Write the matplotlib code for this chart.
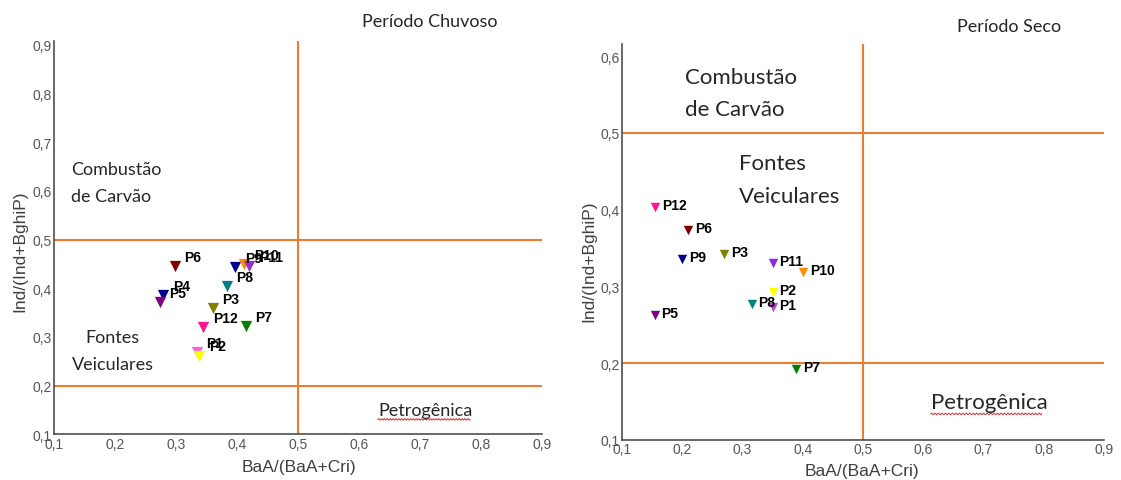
import numpy as np
import matplotlib
matplotlib.use("Agg")
import matplotlib.pyplot as plt

# === Daten: Diagnoseverhältnisse HPA je Messpunkt ===
labels = ["P1", "P2", "P3", "P4", "P5", "P6", "P7", "P8", "P9", "P10", "P11", "P12"]

# Período Chuvoso
chuv_x = [0.334, 0.338, 0.360, 0.279, 0.273, 0.298, 0.414, 0.383, 0.397, 0.412, 0.420, 0.345]
chuv_y = [0.270, 0.262, 0.359, 0.386, 0.372, 0.446, 0.323, 0.405, 0.443, 0.450, 0.445, 0.320]
chuv_cores = ["#ff5fd7", "#ffff00", "#808000", "#00008b", "#800080", "#800000",
              "#008000", "#008080", "#00008b", "#ff8c00", "#9932cc", "#ff1493"]

# Período Seco (P4 ohne Wert)
seco_labels = ["P1", "P2", "P3", "P5", "P6", "P7", "P8", "P9", "P10", "P11", "P12"]
seco_x = [0.350, 0.350, 0.270, 0.154, 0.210, 0.389, 0.315, 0.199, 0.401, 0.350, 0.155]
seco_y = [0.273, 0.293, 0.342, 0.263, 0.374, 0.1925, 0.277, 0.336, 0.319, 0.331, 0.403]
seco_cores = ["#c040d8", "#ffff00", "#808000", "#800080", "#800000", "#008000",
              "#008080", "#00008b", "#ff8c00", "#8a2be2", "#ff1493"]

x_ticks = [0.1, 0.2, 0.3, 0.4, 0.5, 0.6, 0.7, 0.8, 0.9]
y_ticks_chuv = [0.1, 0.2, 0.3, 0.4, 0.5, 0.6, 0.7, 0.8, 0.9]
y_ticks_seco = [0.1, 0.2, 0.3, 0.4, 0.5, 0.6]

laranja = "#ed7d31"
cinza = "#555555"

fig = plt.figure(figsize=(11.21, 4.81), dpi=100)
ax1 = fig.add_axes([0.0482, 0.0946, 0.4353, 0.8189])
ax2 = fig.add_axes([0.5549, 0.0832, 0.4300, 0.8233])


def virgula(v):
    return f"{v:.1f}".replace(".", ",")


def eixo(ax, yticks, ytop):
    ax.set_xlim(0.1, 0.9)
    ax.set_ylim(0.1, ytop)
    for s in ["top", "right"]:
        ax.spines[s].set_visible(False)
    for s in ["left", "bottom"]:
        ax.spines[s].set_color("#404040")
        ax.spines[s].set_linewidth(1.1)
    ax.set_xticks(x_ticks)
    ax.set_xticklabels([virgula(v) for v in x_ticks])
    ax.set_yticks(yticks)
    ax.set_yticklabels([virgula(v) for v in yticks])
    ax.tick_params(length=0, pad=1.5, labelsize=10, colors=cinza)
    for t in ax.get_xticklabels() + ax.get_yticklabels():
        t.set_family("Liberation Sans")
    # Grenzlinien der Herkunftsbereiche
    ax.axvline(0.5, color=laranja, lw=1.5, zorder=1)
    ax.axhline(0.5, color=laranja, lw=1.5, zorder=1)
    ax.axhline(0.2, color=laranja, lw=1.5, zorder=1)


def wellenlinie(ax, x0, x1, y0, amp):
    xs = np.linspace(x0, x1, 300)
    ys = y0 + amp * np.sin((xs - x0) / (x1 - x0) * 2 * np.pi * 32)
    ax.plot(xs, ys, color="#e03030", lw=0.7, clip_on=False, zorder=2)


eixo(ax1, y_ticks_chuv, 0.908)
eixo(ax2, y_ticks_seco, 0.616)

# Punkte + Beschriftung
for lab, x, y, c in zip(labels, chuv_x, chuv_y, chuv_cores):
    ax1.scatter(x, y, marker="v", s=66, color=c, zorder=3, linewidths=0)
    ax1.annotate(lab, (x, y), xytext=(7, 6.5), textcoords="offset points",
                 ha="left", va="center", fontsize=10, fontweight="bold",
                 family="Liberation Sans", color="black", zorder=4)

for lab, x, y, c in zip(seco_labels, seco_x, seco_y, seco_cores):
    ax2.scatter(x, y, marker="v", s=46, color=c, zorder=3, linewidths=0)
    ax2.annotate(lab, (x, y), xytext=(5, 1.5), textcoords="offset points",
                 ha="left", va="center", fontsize=10, fontweight="bold",
                 family="Liberation Sans", color="black", zorder=4)

# Bereichstexte
txt = dict(family="Lato", color="#262626", va="center", ha="left")
ax1.text(0.128, 0.645, "Combustão", fontsize=13, **txt)
ax1.text(0.128, 0.589, "de Carvão", fontsize=13, **txt)
ax1.text(0.152, 0.300, "Fontes", fontsize=13, **txt)
ax1.text(0.130, 0.245, "Veiculares", fontsize=13, **txt)
ax1.text(0.631, 0.150, "Petrogênica", fontsize=13, **txt)
wellenlinie(ax1, 0.631, 0.782, 0.131, 0.0015)

ax2.text(0.2045, 0.573, "Combustão", fontsize=16, **txt)
ax2.text(0.2045, 0.531, "de Carvão", fontsize=16, **txt)
ax2.text(0.2934, 0.461, "Fontes", fontsize=16, **txt)
ax2.text(0.2934, 0.418, "Veiculares", fontsize=16, **txt)
ax2.text(0.6124, 0.1495, "Petrogênica", fontsize=16, **txt)
wellenlinie(ax2, 0.6124, 0.7965, 0.134, 0.001)

# Titel und Achsenbeschriftungen
fig.text(0.3836, 0.954, "Período Chuvoso", family="Lato", fontsize=13,
         color="#262626", ha="center", va="center")
fig.text(0.900, 0.944, "Período Seco", family="Lato", fontsize=13,
         color="#262626", ha="center", va="center")

lab_kw = dict(family="Liberation Sans", fontsize=12.5, color="#404040",
              ha="center", va="center")
fig.text(299 / 1121, 1 - 468 / 481, "BaA/(BaA+Cri)", **lab_kw)
fig.text(862 / 1121, 1 - 472 / 481, "BaA/(BaA+Cri)", **lab_kw)
fig.text(19.6 / 1121, 1 - 251 / 481, "Ind/(Ind+BghiP)", rotation=90, **lab_kw)
fig.text(588.6 / 1121, 1 - 261 / 481, "Ind/(Ind+BghiP)", rotation=90, **lab_kw)

fig.savefig("out.png", dpi=100)
